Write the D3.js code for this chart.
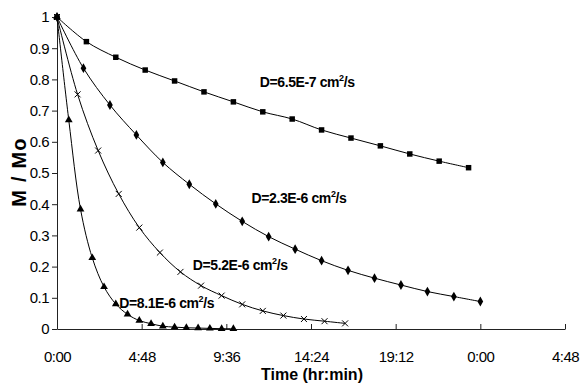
<!DOCTYPE html>
<html>
<head>
<meta charset="utf-8">
<script src="https://cdn.jsdelivr.net/npm/d3@7"></script>
<style>
  html, body { margin: 0; padding: 0; background: #fff; }
  svg { display: block; }
  text { font-family: "Liberation Sans", Arial, sans-serif; }
</style>
</head>
<body>
<svg id="chart" width="581" height="385"></svg>
<script>
// ---- data (time in minutes, value M/Mo) ----
const t1 = [0,100,200,300,400,500,600,700,800,900,1000,1100,1200,1300,1400];
const v1 = [1.0,0.921,0.871,0.830,0.795,0.760,0.728,0.696,0.673,0.638,0.612,0.587,0.561,0.538,0.517];

const t2 = [0,90,180,270,360,450,540,630,720,810,900,990,1080,1170,1260,1350,1440];
const v2 = [1.0,0.836,0.718,0.622,0.534,0.464,0.401,0.345,0.296,0.256,0.219,0.188,0.163,0.141,0.120,0.104,0.088];

const t3 = [0,70,140,210,280,350,420,490,560,630,700,770,840,910,980];
const v3 = [1.0,0.752,0.572,0.433,0.325,0.245,0.183,0.139,0.107,0.079,0.058,0.043,0.032,0.025,0.018];

const t4 = [0,40,80,120,160,200,240,280,320,360,400,440,480,520,560,600];
const v4 = [1.0,0.670,0.384,0.228,0.135,0.080,0.047,0.027,0.017,0.009,0.006,0.004,0.003,0.002,0.001,0.001];

const seriesLabels = ["D=6.5E-7 cm", "D=2.3E-6 cm", "D=5.2E-6 cm", "D=8.1E-6 cm"];
const xTickValues = [0,288,576,864,1152,1440,1728];
const xTickLabels = ["0:00","4:48","9:36","14:24","19:12","0:00","4:48"];
const yTickValues = [0,0.1,0.2,0.3,0.4,0.5,0.6,0.7,0.8,0.9,1];
const yTickLabels = ["0","0.1","0.2","0.3","0.4","0.5","0.6","0.7","0.8","0.9","1"];

// ---- layout ----
const svg = d3.select("#chart");
const x = d3.scaleLinear().domain([0, 1728]).range([57, 565]);
const y = d3.scaleLinear().domain([0, 1]).range([329, 17]);

svg.append("rect").attr("width", 581).attr("height", 385).attr("fill", "#fff");

// y axis
const yAxis = svg.append("g").attr("transform", `translate(${x(0)},0)`)
  .call(d3.axisLeft(y).tickValues(yTickValues).tickSizeInner(5).tickSizeOuter(0).tickPadding(3)
    .tickFormat((d, i) => yTickLabels[i]));
yAxis.selectAll("text").attr("font-size", 15).attr("letter-spacing", -0.5)
  .attr("fill", "#000").attr("font-family", "Liberation Sans, Arial, sans-serif");
yAxis.selectAll("line,path").attr("stroke", "#222");

// x axis
const xAxis = svg.append("g").attr("transform", `translate(0,${y(0)})`)
  .call(d3.axisBottom(x).tickValues(xTickValues).tickSizeInner(-5).tickSizeOuter(0).tickPadding(22)
    .tickFormat((d, i) => xTickLabels[i]));
xAxis.selectAll("text").attr("font-size", 15).attr("letter-spacing", -0.5)
  .attr("fill", "#000").attr("font-family", "Liberation Sans, Arial, sans-serif");
xAxis.selectAll("line,path").attr("stroke", "#222");
xAxis.select(".tick line").attr("display", "none");

// axis titles
svg.append("text")
  .attr("x", 312).attr("y", 380).attr("text-anchor", "middle")
  .attr("font-size", 16).attr("font-weight", "bold").text("Time (hr:min)");

svg.append("text")
  .attr("transform", "translate(26,172) rotate(-90)")
  .attr("text-anchor", "middle")
  .attr("font-size", 20).attr("font-weight", "bold").attr("letter-spacing", 1.2)
  .text("M / Mo");

// lines
const line = d3.line().x(d => x(d[0])).y(d => y(d[1])).curve(d3.curveCatmullRom.alpha(0.5));
const series = [
  {t: t1, v: v1, sym: d3.symbolSquare, size: 30},
  {t: t2, v: v2, sym: d3.symbolDiamond, size: 28},
  {t: t3, v: v3, sym: "x", size: 3},
  {t: t4, v: v4, sym: d3.symbolTriangle, size: 26}
];

series.forEach(s => {
  const pts = s.t.map((tt, i) => [tt, s.v[i]]);
  svg.append("path").datum(pts).attr("d", line)
    .attr("fill", "none").attr("stroke", "#000").attr("stroke-width", 1);
  const g = svg.append("g");
  if (s.sym === "x") {
    g.selectAll("path").data(pts).join("path")
      .attr("d", d => {
        const cx = x(d[0]), cy = y(d[1]), r = s.size;
        return `M${cx - r},${cy - r}L${cx + r},${cy + r}M${cx - r},${cy + r}L${cx + r},${cy - r}`;
      })
      .attr("stroke", "#000").attr("stroke-width", 1).attr("fill", "none");
  } else {
    g.selectAll("path").data(pts).join("path")
      .attr("transform", d => `translate(${x(d[0])},${y(d[1])})`)
      .attr("d", d3.symbol().type(s.sym).size(s.size))
      .attr("fill", "#000");
  }
});

// annotations (anchor in data units: minutes, M/Mo)
const labelAnchors = [[690, 0.777], [662, 0.404], [462, 0.189], [212, 0.067]];
seriesLabels.forEach((lab, i) => {
  const t = svg.append("text")
    .attr("x", x(labelAnchors[i][0])).attr("y", y(labelAnchors[i][1]))
    .attr("font-size", 14).attr("font-weight", "bold").attr("letter-spacing", -0.4);
  t.append("tspan").text(lab);
  t.append("tspan").attr("font-size", 9).attr("dy", -6).text("2");
  t.append("tspan").attr("dy", 6).text("/s");
});
</script>
</body>
</html>
